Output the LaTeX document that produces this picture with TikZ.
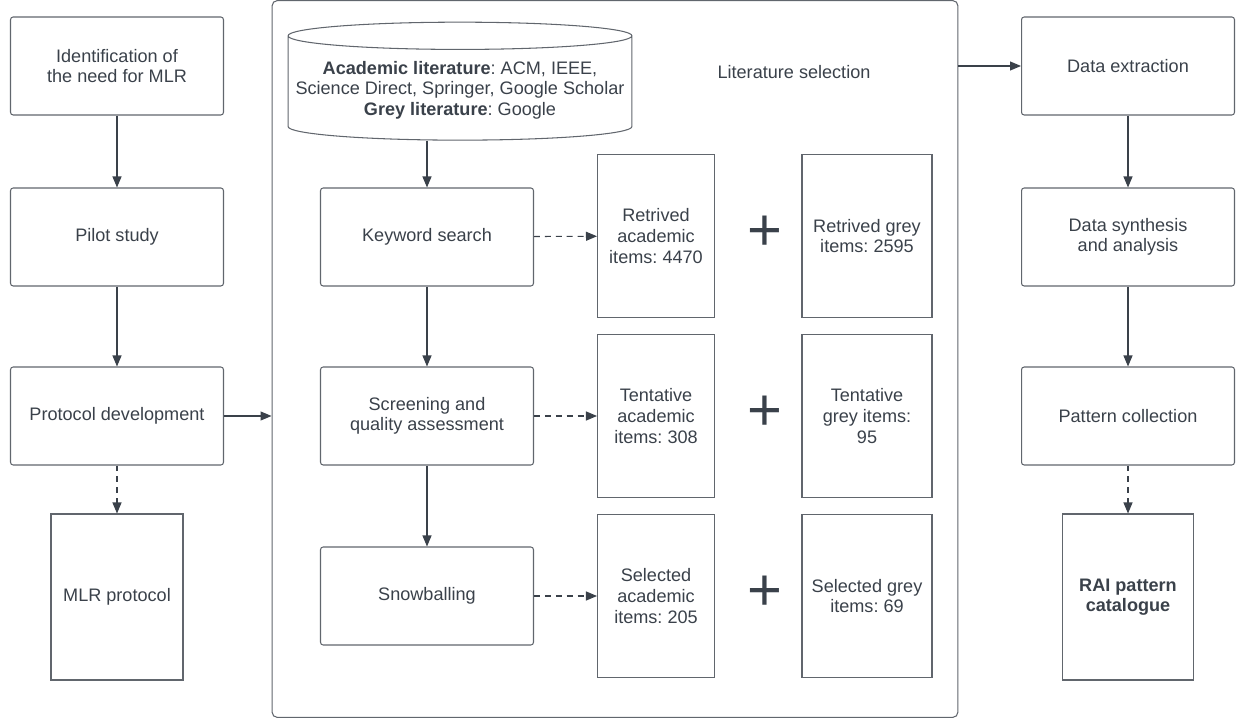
\documentclass[tikz,border=0pt]{standalone}
\usepackage{fontspec}
\setmainfont{Liberation Sans}
\usetikzlibrary{arrows.meta,shapes.geometric}
\definecolor{ink}{HTML}{3A414A}
\definecolor{edge}{HTML}{61666D}
\frenchspacing

\begin{document}
\begin{tikzpicture}[x=0.02cm,y=-0.02cm,>={Triangle[length=2.2mm,width=1.8mm]},
  every node/.style={text=ink,font=\fontsize{10.3}{11.7}\selectfont,align=center},
  proc/.style={draw=edge,line width=0.6pt,rounded corners=1.5pt,minimum width=4.26cm,minimum height=1.96cm},
  docbox/.style={draw=edge,line width=0.6pt,minimum width=2.34cm,minimum height=3.26cm},
  flow/.style={->,draw=ink,line width=0.6pt},
  dashline/.style={flow,dash pattern=on 3.4pt off 2.8pt}]
  \useasboundingbox (0,0) rectangle (1238,719);

  % outer frame of the selection stage
  \node[draw=edge,line width=0.6pt,rounded corners=3pt,minimum width=13.72cm,minimum height=14.34cm] (sel) at (615,359) {};
  \node (seltitle) at (794,72) {Literature selection};

  % left column
  \node[proc] (need) at (117,66) {Identification of\\the need for MLR};
  \node[proc] (pilot) at (117,237) {Pilot study};
  \node[proc] (prot) at (117,416) {Protocol development};
  \node[docbox,minimum width=2.64cm,minimum height=3.32cm] (mlrp) at (117,597) {MLR protocol};

  % sources
  \node[cylinder,shape border rotate=90,draw=edge,line width=0.6pt,aspect=0.08,
        minimum width=6.88cm,minimum height=2.36cm] (src) at (460,90)
    {\textbf{Academic literature}: ACM, IEEE,\\Science Direct, Springer, Google Scholar\\\textbf{Grey literature}: Google};

  % middle column
  \node[proc] (kw) at (427,237) {Keyword search};
  \node[proc] (scr) at (427,416) {Screening and\\quality assessment};
  \node[proc] (snow) at (427,596) {Snowballing};

  % item counts
  \foreach \y/\from/\acad/\grey [count=\i] in
  {
    236/kw/{Retrived\\academic\\items: 4470}/{Retrived grey\\items: 2595},
    416/scr/{Tentative\\academic\\items: 308}/{Tentative\\grey items:\\95},
    596/snow/{Selected\\academic\\items: 205}/{Selected grey\\items: 69}%
  }
  {
    \node[docbox] (ac\i) at (656,\y) {\acad};
    \node[font=\fontsize{34}{34}\selectfont] (plus\i) at (765,\y-3) {+};
    \node[docbox,minimum width=2.6cm] (gr\i) at (867,\y) {\grey};
    \draw[dashline] (\from) -- (ac\i);
  }

  % right column
  \node[proc] (extr) at (1128,66) {Data extraction};
  \node[proc] (synth) at (1128,237) {Data synthesis\\and analysis};
  \node[proc] (patt) at (1128,416) {Pattern collection};
  \node[docbox,minimum width=2.62cm,minimum height=3.32cm,font=\fontsize{10.3}{11.7}\selectfont\bfseries] (cat) at (1128,597) {RAI pattern\\catalogue};

  \draw[flow] (need) -- (pilot);
  \draw[flow] (pilot) -- (prot);
  \draw[dashline] (prot) -- (mlrp);
  \draw[flow] (prot.east) -- (prot.east -| sel.west);
  \draw[flow] (src.south -| kw.north) -- (kw);
  \draw[flow] (kw) -- (scr);
  \draw[flow] (scr) -- (snow);
  \draw[flow] (sel.east |- extr.west) -- (extr.west);
  \draw[flow] (extr) -- (synth);
  \draw[flow] (synth) -- (patt);
  \draw[dashline] (patt) -- (cat);
\end{tikzpicture}
\end{document}
